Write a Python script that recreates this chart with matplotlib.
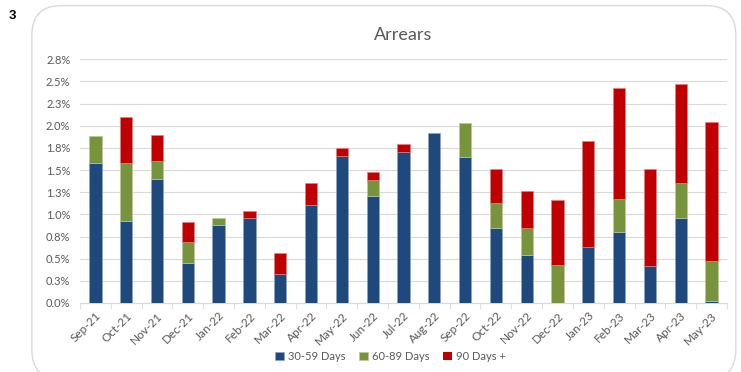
import matplotlib
matplotlib.use('Agg')
import matplotlib.pyplot as plt
from matplotlib.patches import FancyBboxPatch
from matplotlib.ticker import FuncFormatter, MultipleLocator
import numpy as np

months = ['Sep-21', 'Oct-21', 'Nov-21', 'Dec-21', 'Jan-22', 'Feb-22', 'Mar-22', 'Apr-22',
          'May-22', 'Jun-22', 'Jul-22', 'Aug-22', 'Sep-22', 'Oct-22', 'Nov-22', 'Dec-22',
          'Jan-23', 'Feb-23', 'Mar-23', 'Apr-23', 'May-23']
d30_59 = [1.585, 0.92, 1.40, 0.455, 0.885, 0.957, 0.331, 1.111, 1.664, 1.213, 1.703,
          1.913, 1.653, 0.847, 0.546, 0.0, 0.629, 0.802, 0.415, 0.964, 0.02]
d60_89 = [0.305, 0.665, 0.20, 0.231, 0.072, 0.0, 0.0, 0.0, 0.0, 0.18, 0.0,
          0.0, 0.377, 0.279, 0.298, 0.429, 0.0, 0.37, 0.0, 0.392, 0.455]
d90_plus = [0.0, 0.515, 0.30, 0.226, 0.0, 0.079, 0.234, 0.241, 0.084, 0.087, 0.09,
            0.0, 0.0, 0.384, 0.418, 0.735, 1.201, 1.254, 1.095, 1.119, 1.57]

plt.rcParams['font.family'] = ['Lato', 'DejaVu Sans']

fig = plt.figure(figsize=(7.41, 3.72), dpi=100)
ax = fig.add_axes([0.108, 0.1855, 0.873, 0.655])

# rounded chart border
box = FancyBboxPatch((0.043, -0.02), 0.95, 1.005, boxstyle='round,pad=0,rounding_size=0.04',
                     transform=fig.transFigure, facecolor='none', edgecolor='#D9D9D9',
                     linewidth=1.0, mutation_aspect=741 / 372)
fig.patches.append(box)
fig.text(0.012, 0.957, '3', fontsize=9.5, fontweight='bold', ha='left', va='center',
         family='Liberation Sans')

x = np.arange(len(months))
b = np.array(d30_59)
g = np.array(d60_89)
r = np.array(d90_plus)
w = 0.4


def lw(v):
    # no outline on empty segments
    return np.where(v > 0, 0.5, 0.0)


ax.bar(x, b, w, color='#1F497D', edgecolor='#8FA4BE', linewidth=lw(b), label='30-59 Days', zorder=3)
ax.bar(x, g, w, bottom=b, color='#77933C', edgecolor='#BBC99D', linewidth=lw(g), label='60-89 Days', zorder=3)
ax.bar(x, r, w, bottom=b + g, color='#C00000', edgecolor='#E08080', linewidth=lw(r), label='90 Days +', zorder=3)

ax.set_ylim(0, 2.75)
ax.set_xlim(-0.5, len(months) - 0.5)
ax.yaxis.set_major_locator(MultipleLocator(0.25))
ax.yaxis.set_major_formatter(FuncFormatter(lambda v, p: f'{v + 1e-9:.1f}%'))
ax.grid(axis='y', color='#D9D9D9', linewidth=0.8, zorder=0)
for s in ['top', 'right', 'left']:
    ax.spines[s].set_visible(False)
ax.spines['bottom'].set_color('#D9D9D9')
ax.tick_params(axis='y', length=0, labelsize=8, labelcolor='#595959', pad=7)
ax.set_xticks(x)
ax.set_xticklabels(months, rotation=45, ha='right', rotation_mode='anchor')
ax.tick_params(axis='x', length=0, labelsize=8.5, labelcolor='#595959', pad=5)
ax.set_xticks(np.arange(-0.5, len(months), 1), minor=True)
ax.tick_params(axis='x', which='minor', length=4, color='#D9D9D9')

ax.set_title('Arrears', fontsize=13, color='#595959', pad=14)
fig.legend(loc='lower center', bbox_to_anchor=(0.527, 0.0), ncol=3, frameon=False,
           fontsize=8, handlelength=0.8, handleheight=0.8, handletextpad=0.4,
           columnspacing=1.2, labelcolor='#595959')

fig.savefig('out.png', dpi=100)
